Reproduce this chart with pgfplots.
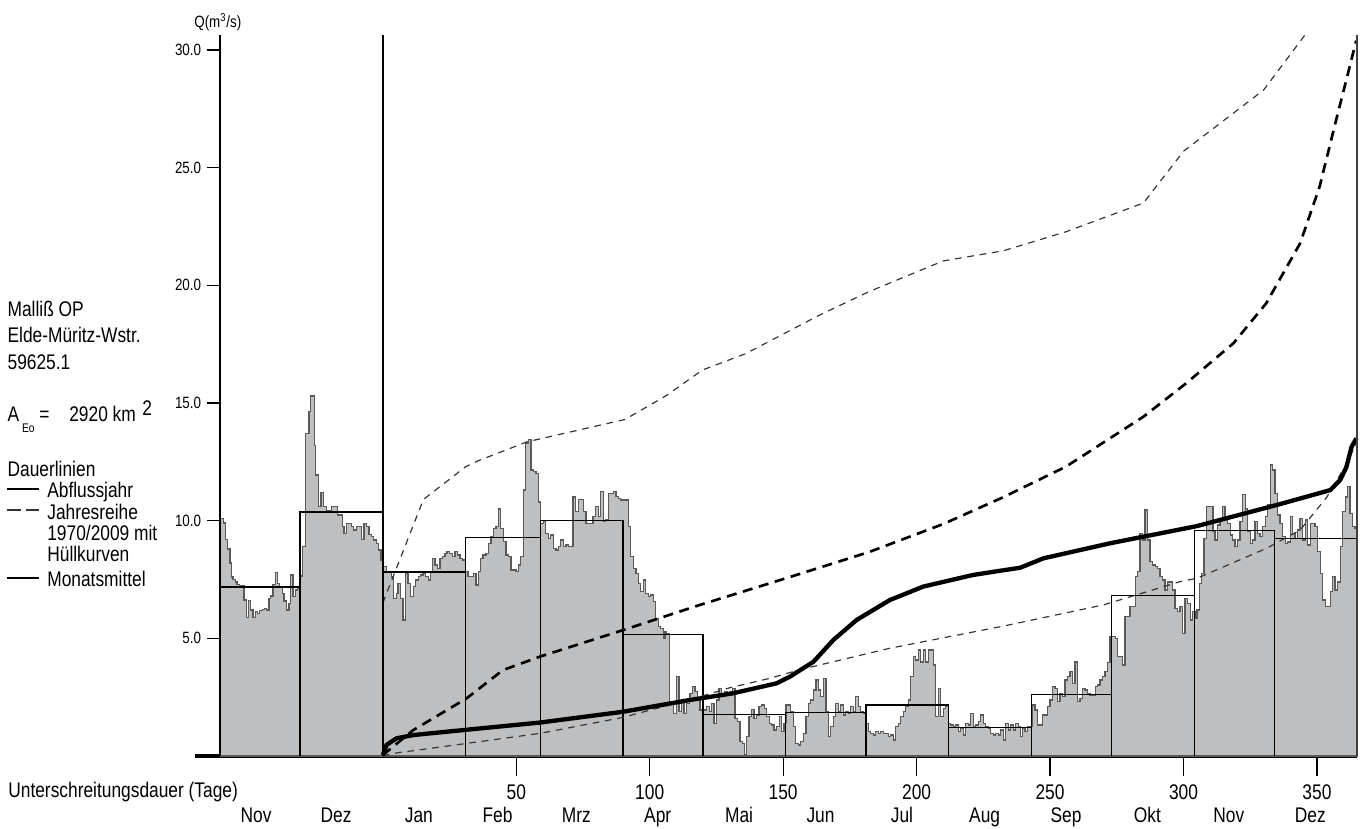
\documentclass[border=0pt]{standalone}
\usepackage{fontspec}
\setmainfont{Liberation Sans}[FakeStretch=0.82]
\usepackage{pgfplots}
\pgfplotsset{compat=1.18}
\definecolor{hydfill}{RGB}{190,191,193}
\definecolor{hydline}{RGB}{90,90,90}
\newcommand{\fbig}{\fontsize{12.7}{15}\selectfont}
\newcommand{\fsmall}{\fontsize{9.8}{12}\selectfont}
\begin{document}
\begin{tikzpicture}
\begin{axis}[name=ax, at={(0,0)}, anchor=south west,
  scale only axis, width=682.2pt, height=432.6pt,
  xmin=-61, xmax=365, ymin=0, ymax=30.64,
  axis x line*=bottom, axis y line=none,
  x axis line style={line width=2pt},
  tick align=outside,
  xtick={50,100,...,350}, ytick=\empty,
  major tick length=12pt,
  xtick style={black, line width=0.7pt},
  minor tick num=0,
  /pgf/number format/assume math mode=true,
  x tick label style={font=\fbig, yshift=-1.2pt, text height=9.3pt, text depth=0pt},
  extra x ticks={-47.5,-17.5,13.5,43,72.5,103,133.5,164,194.5,225.5,256,286.5,317,347.5},
  extra x tick labels={Nov,Dez,Jan,Feb,Mrz,Apr,Mai,Jun,Jul,Aug,Sep,Okt,Nov,Dez},
  extra x tick style={tick style={draw=none}, x tick label style={yshift=-14pt}},
  clip=false,
]
% daily discharge (Nov previous year .. Dec)
\addplot[const plot, fill=hydfill, draw=hydline, line width=0.8pt] coordinates {
(-61,10.1)(-59.8,9.9)(-58.9,9.2)(-58.2,8.8)(-57.3,8.2)(-56.7,7.6)(-56.1,7.5)(-55.3,7.4)(-54.6,7.3)(-53.6,7.23)(-52.0,6.63)(-51.1,5.9)(-50.2,6.6)(-49.5,6.2)(-48.6,5.9)(-47.7,6.13)(-47.0,6.06)(-46.1,6.17)(-45.2,6.23)(-44.4,6.27)(-43.6,6.2)(-42.7,6.7)(-42.0,6.8)(-41.1,7.3)(-40.2,7.8)(-39.5,7.33)(-38.6,7.16)(-37.7,6.9)(-37.0,6.59)(-36.1,6.2)(-35.2,6.49)(-34.5,7.69)(-33.6,6.77)(-32.7,7.05)(-32.0,7.12)
(-31.0,7.65)(-30.0,8.9)(-29.0,13.7)(-27.7,14.63)(-27.0,15.3)(-25.7,13.2)(-25.1,11.94)(-24.1,10.6)(-23.1,11.19)(-22.1,10.6)(-21.0,10.43)(-19.2,10.6)(-17.0,10.24)(-15.2,9.75)(-14.5,9.46)(-13.6,9.89)(-11.7,9.75)(-10.9,9.6)(-9.9,9.75)(-8.0,9.2)(-7.1,9.89)(-6.1,9.75)(-5.2,9.4)(-4.2,9.32)(-3.4,9.18)(-2.4,9.04)(-1.5,8.75)(-0.7,8.33)
(0,8.05)(1.4,7.83)(3.25,7.6)(4.1,6.7)(5.1,6.9)(5.75,7.34)(6.6,6.7)(7.6,5.78)(8.5,7.76)(9.5,7.34)(10.4,6.77)(11.4,7.2)(12.25,7.48)(13.25,7.62)(14.1,7.69)(15.1,7.76)(16,7.62)(17,7.48)(17.9,7.83)(18.6,8.4)(19.5,8.12)(20.4,7.98)(21.4,8.4)(22.25,8.47)(23.25,8.61)(24.1,8.68)(25.1,8.61)(26.1,8.47)(27,8.68)(27.9,8.54)(28.9,8.4)(29.9,8.33)
(31,7.83)(31.9,7.62)(33.9,7.76)(34.9,7.27)(35.75,7.83)(36.6,8.4)(37.6,8.54)(38.6,8.61)(39.5,9.04)(40.5,9.32)(41.4,9.68)(42.4,9.75)(43.25,10.5)(44.1,9.68)(45.1,9.11)(46.1,8.54)(47,8.47)(48,7.9)(49.9,7.83)(50.75,8.12)(51.6,8.47)(52.6,11.3)(53.5,13.3)(54.5,13.45)(55.5,12.15)(56.4,12.08)(57.4,12.0)(58.25,10.8)
(59.1,9.89)(60.1,9.96)(61,9.46)(62,9.25)(62.9,9.39)(63.9,8.83)(64.9,8.76)(65.75,8.9)(66.6,9.18)(67.6,8.9)(68.6,8.97)(69.5,8.9)(71.3,11.0)(72.3,10.4)(73.25,10.9)(75.1,10.4)(76.1,9.89)(77.8,9.89)(78.8,10.17)(79.8,10.6)(80.75,10.17)(81.6,11.23)(82.6,9.96)(83.5,10.03)(84.5,11.16)(86.4,11.23)(87.4,11.02)(88.25,10.95)(89.1,10.88)
(92,9.75)(92.9,8.47)(93.9,7.98)(94.9,7.76)(95.75,7.34)(96.6,6.98)(97.6,7.48)(98.5,6.91)(99.5,6.77)(100.3,6.84)(101.3,6.56)(102.2,5.85)(103.2,5.5)(104.1,5.43)(105.1,5.0)(105.75,5.28)(106.3,5.2)(107.3,2.24)(108.8,1.81)(110.1,3.37)(111,1.88)(112,2.38)(112.9,1.81)(113.9,2.24)(114.9,2.52)
(115.1,2.66)(116.1,2.95)(117.0,2.73)(117.8,2.38)(118.8,1.95)(121.3,2.1)(122.3,1.88)(123.2,2.24)(124.1,1.39)(125.1,2.38)(126.0,2.88)(126.9,2.66)(127.9,2.73)(129.1,2.59)(130.1,2.73)(130.9,2.88)(131.9,1.6)(132.8,1.46)(133.8,0.61)(134.7,0.54)(135.4,0.04)(136.3,0.82)(137.2,1.67)(138.2,1.98)(139.1,1.6)(140.1,1.74)(140.9,2.1)(141.9,2.17)(142.9,2.03)(143.8,1.67)(144.8,1.39)(145.7,1.32)(146.6,1.1)(147.6,1.25)(148.6,1.67)(149.4,1.03)(150.3,1.39)
(151.05,2.17)(152.8,1.88)(153.8,1.25)(154.7,0.54)(155.7,0.47)(156.6,0.61)(157.6,0.96)(158.5,1.67)(159.4,2.24)(160.3,2.38)(161.3,2.8)(162.3,3.23)(163.2,2.8)(164.0,2.52)(165.0,3.3)(166.0,1.88)(166.9,0.82)(167.8,1.25)(168.8,1.67)(169.7,2.24)(170.7,1.88)(171.5,2.17)(172.5,1.74)(173.4,1.88)(174.4,1.81)(175.3,2.1)(176.3,1.88)(177.2,2.52)(178.2,2.1)(179.0,1.88)(180.0,1.81)
(181.0,1.39)(181.9,1.03)(182.8,0.96)(183.8,0.89)(184.7,1.03)(185.7,0.96)(186.5,1.03)(187.5,0.96)(189.4,0.82)(190.3,0.89)(191.3,0.68)(192.2,1.25)(193.2,1.39)(194.0,1.67)(195.0,1.88)(195.9,2.1)(196.9,2.38)(197.8,3.37)(198.8,4.22)(199.7,4.08)(200.7,4.5)(201.5,4.0)(202.5,4.5)(203.4,4.0)(204.4,4.5)(206.3,3.87)(207.1,1.67)(208.2,2.88)(209.0,1.67)(210.0,2.03)(210.9,2.1)
(211.9,1.39)(212.8,1.32)(213.8,1.25)(214.6,1.32)(215.6,1.03)(216.5,1.18)(217.5,0.89)(218.4,1.39)(219.4,1.32)(220.3,1.81)(221.3,1.25)(222.1,1.32)(223.1,1.46)(224.0,1.74)(225.0,1.39)(225.9,1.25)(226.9,1.18)(227.8,0.96)(228.8,0.89)(229.6,0.96)(230.6,0.89)(231.5,1.1)(232.5,0.68)(233.4,1.39)(234.4,1.1)(235.3,1.32)(236.3,1.1)(237.1,1.39)(238.1,1.25)
(238.8,0.82)(239.6,1.18)(240.6,1.04)(241.5,1.25)(243.4,2.17)(244.4,1.95)(245.2,1.32)(247.1,1.74)(249.0,2.1)(250.0,2.38)(250.9,2.95)(251.9,2.88)(252.8,2.31)(253.7,2.66)(254.6,2.52)(255.6,3.23)(256.5,3.37)(257.5,3.58)(258.4,3.09)(259.4,4.0)(260.2,2.31)(261.2,2.45)(262.1,2.88)(263.1,2.8)(264.0,2.66)(265.0,2.59)(266.9,2.95)(267.7,3.02)(268.7,3.23)(269.6,3.37)(270.6,3.58)(271.5,3.97)
(272.5,5.07)(274.4,5.0)(275.2,4.22)(277.1,3.87)(278.1,5.92)(280.0,6.35)(281.9,7.62)(282.7,7.83)(283.7,9.46)(284.6,9.18)(285.6,10.45)(286.5,9.18)(287.5,8.26)(288.4,8.12)(289.4,8.05)(290.2,7.98)(291.2,7.62)(292.1,7.48)(293.1,7.05)(294.0,7.4)(295.9,7.05)(296.8,6.28)(297.7,6.14)(298.7,6.35)(299.6,5.21)(300.6,6.7)(301.5,6.49)(302.5,5.78)(303.4,6.14)
(304.3,5.85)(305.0,6.2)(306.0,7.34)(306.8,7.76)(307.7,9.25)(308.7,10.6)(311.0,9.53)(311.8,9.18)(312.7,9.82)(313.7,10.1)(314.6,10.6)(315.6,10.1)(316.5,9.89)(317.5,9.39)(318.3,9.18)(319.3,8.9)(320.2,9.18)(321.2,9.96)(322.1,11.1)(323.1,10.5)(324.0,9.53)(325.0,9.04)(325.8,9.18)(326.8,9.96)(327.7,9.46)(328.7,9.32)(329.6,9.75)(330.6,10.17)(331.5,10.67)(332.5,12.37)(333.3,12.15)
(334.3,11.16)(335.2,10.24)(336.2,9.89)(337.1,9.32)(338.1,9.04)(339.0,9.1)(340.0,10.17)(340.8,9.46)(341.8,9.25)(342.7,9.6)(343.7,10.1)(344.6,9.18)(345.6,10.03)(346.5,8.97)(347.5,9.89)(349.3,9.75)(350.2,8.68)(351.2,7.76)(352.1,6.63)(353.1,6.35)(355.0,6.98)(355.8,7.62)(356.8,7.05)(357.7,7.4)(358.7,8.9)(359.6,10.38)(360.6,11.0)(361.4,11.45)(362.4,10.3)(363.3,9.75)(364.3,9.68)(365,9.68)
} \closedcycle;
% monthly means
\pgfplotsset{mm/.style={black, line width=0.8pt}}
\addplot[mm] coordinates {(-61,0)(-61,7.18)(-31,7.18)(-31,0)};
\addplot[mm] coordinates {(-31,0)(-31,10.37)(0,10.37)(0,0)};
\addplot[mm] coordinates {(0,0)(0,7.82)(31,7.82)(31,0)};
\addplot[mm] coordinates {(31,0)(31,9.28)(59,9.28)(59,0)};
\addplot[mm] coordinates {(59,0)(59,10.02)(90,10.02)(90,0)};
\addplot[mm] coordinates {(90,0)(90,5.16)(120,5.16)(120,0)};
\addplot[mm] coordinates {(120,0)(120,1.77)(151,1.77)(151,0)};
\addplot[mm] coordinates {(151,0)(151,1.84)(181,1.84)(181,0)};
\addplot[mm] coordinates {(181,0)(181,2.17)(212,2.17)(212,0)};
\addplot[mm] coordinates {(212,0)(212,1.22)(243,1.22)(243,0)};
\addplot[mm] coordinates {(243,0)(243,2.62)(273,2.62)(273,0)};
\addplot[mm] coordinates {(273,0)(273,6.82)(304,6.82)(304,0)};
\addplot[mm] coordinates {(304,0)(304,9.58)(334,9.58)(334,0)};
\addplot[mm] coordinates {(334,0)(334,9.25)(365,9.25)(365,0)};
% envelopes 1970/2009
\addplot[black!80, line width=0.7pt, dash pattern=on 4pt off 3.5pt] coordinates {
(0,6.5)(15.2,10.9)(31,12.29)(35.6,12.54)(54,13.35)(90.7,14.3)(106,15.3)(119.7,16.4)(136,17.1)(164,18.76)(182.5,19.75)(210,21.04)(232.5,21.47)(256,22.28)(285,23.5)(300,25.7)(330,28.3)(345.5,30.64)};
\addplot[black!80, line width=0.7pt, dash pattern=on 4pt off 3.5pt] coordinates {
(0,0)(3.9,0.11)(58.8,0.96)(90,1.64)(118.8,2.52)(130,2.9)(145,3.3)(156,3.66)(190,4.58)(232.5,5.52)(270,6.42)(298.7,7.41)(305,7.55)(331,8.82)(343.7,9.6)(353.7,11.0)(361,12.4)(364.8,13.3)};
% mean duration curve 1970/2009
\addplot[black, line width=1.6pt, dash pattern=on 6pt off 4pt] coordinates {
(0,0.04)(11.4,1.1)(31.4,2.45)(45,3.65)(58.8,4.22)(90,5.35)(118.8,6.42)(151.8,7.58)(182.5,8.68)(210,9.86)(232.5,11.0)(256,12.3)(285,14.42)(301,15.84)(318.7,17.54)(331,19.24)(343.7,21.79)(351,24.2)(357.5,27.17)(362.5,29.4)(364.7,30.4)};
% duration curve Abflussjahr
\addplot[black, line width=2.6pt] coordinates {
(0,0.04)(1.4,0.47)(5.1,0.75)(11.4,0.89)(30,1.1)(58.8,1.42)(90,1.88)(115,2.38)(131,2.66)(147.6,3.09)(152.5,3.37)(161.3,4.0)(168.8,4.93)(177.5,5.78)(190,6.63)(202.5,7.2)(221,7.69)(230,7.85)(238.8,8.0)(247.5,8.4)(272.5,9.04)(305,9.77)(336,10.7)(355,11.3)(358.7,11.73)(361,12.27)(363,13.15)(364.8,13.5)};
\draw[black, line width=1pt] (axis cs:0,0) -- (axis cs:0,30.64);
\draw[black!75, line width=1pt] (axis cs:365,0) -- (axis cs:365,30.64);
\draw[black, line width=2pt] (axis cs:-70.5,0) -- (axis cs:-61,0);
\end{axis}
% y axis with its own, shorter ticks
\begin{axis}[at={(0,0)}, anchor=south west,
  scale only axis, width=682.2pt, height=432.6pt,
  xmin=-61, xmax=365, ymin=0, ymax=30.64,
  axis x line=none, axis y line*=left,
  y axis line style={line width=0.9pt},
  tick align=outside, major tick length=7.8pt,
  xtick=\empty, ytick={5,10,...,30},
  ytick style={black, line width=0.7pt},
  minor tick num=0,
  /pgf/number format/assume math mode=true,
  y tick label style={font=\fsmall, /pgf/number format/fixed, /pgf/number format/fixed zerofill, /pgf/number format/precision=1},
]
\end{axis}
\begin{scope}[shift={(ax.south west)}]
\begin{scope}[x=0.6pt, y=-0.6pt, shift={(-220,-756)}]
\tikzset{every node/.style={inner sep=0pt, anchor=base west}}
\node[font=\fsmall] at (194,28) {Q(m\textsuperscript{3}/s)};
\node[font=\fbig] at (7.3,317) {Malliß OP};
\node[font=\fbig] at (7.3,343) {Elde-Müritz-Wstr.};
\node[font=\fbig] at (7.3,370) {59625.1};
\node[font=\fbig] at (7.3,421.7) {A};
\node[font=\fontsize{7.5}{9}\selectfont] at (21.7,433) {Eo};
\node[font=\fbig] at (39,421.7) {=};
\node[font=\fbig] at (69,421.7) {2920 km};
\node[font=\fbig] at (142,416) {2};
\node[font=\fbig] at (7.3,477) {Dauerlinien};
\node[font=\fbig] at (47,498) {Abflussjahr};
\node[font=\fbig] at (47,520) {Jahresreihe};
\node[font=\fbig] at (47,540.7) {1970/2009 mit};
\node[font=\fbig] at (47,561.7) {Hüllkurven};
\node[font=\fbig] at (47,586.7) {Monatsmittel};
\node[font=\fbig] at (8,797) {Unterschreitungsdauer (Tage)};
\draw[black, line width=0.8pt] (7,489) -- (39,489);
\draw[black!80, line width=0.8pt] (7,510) -- (21,510) (26,510) -- (39,510);
\draw[black, line width=0.8pt] (7,578) -- (39,578);
\pgfresetboundingbox
\path (0,0) rectangle (1365,828);
\end{scope}
\end{scope}
\end{tikzpicture}
\end{document}
